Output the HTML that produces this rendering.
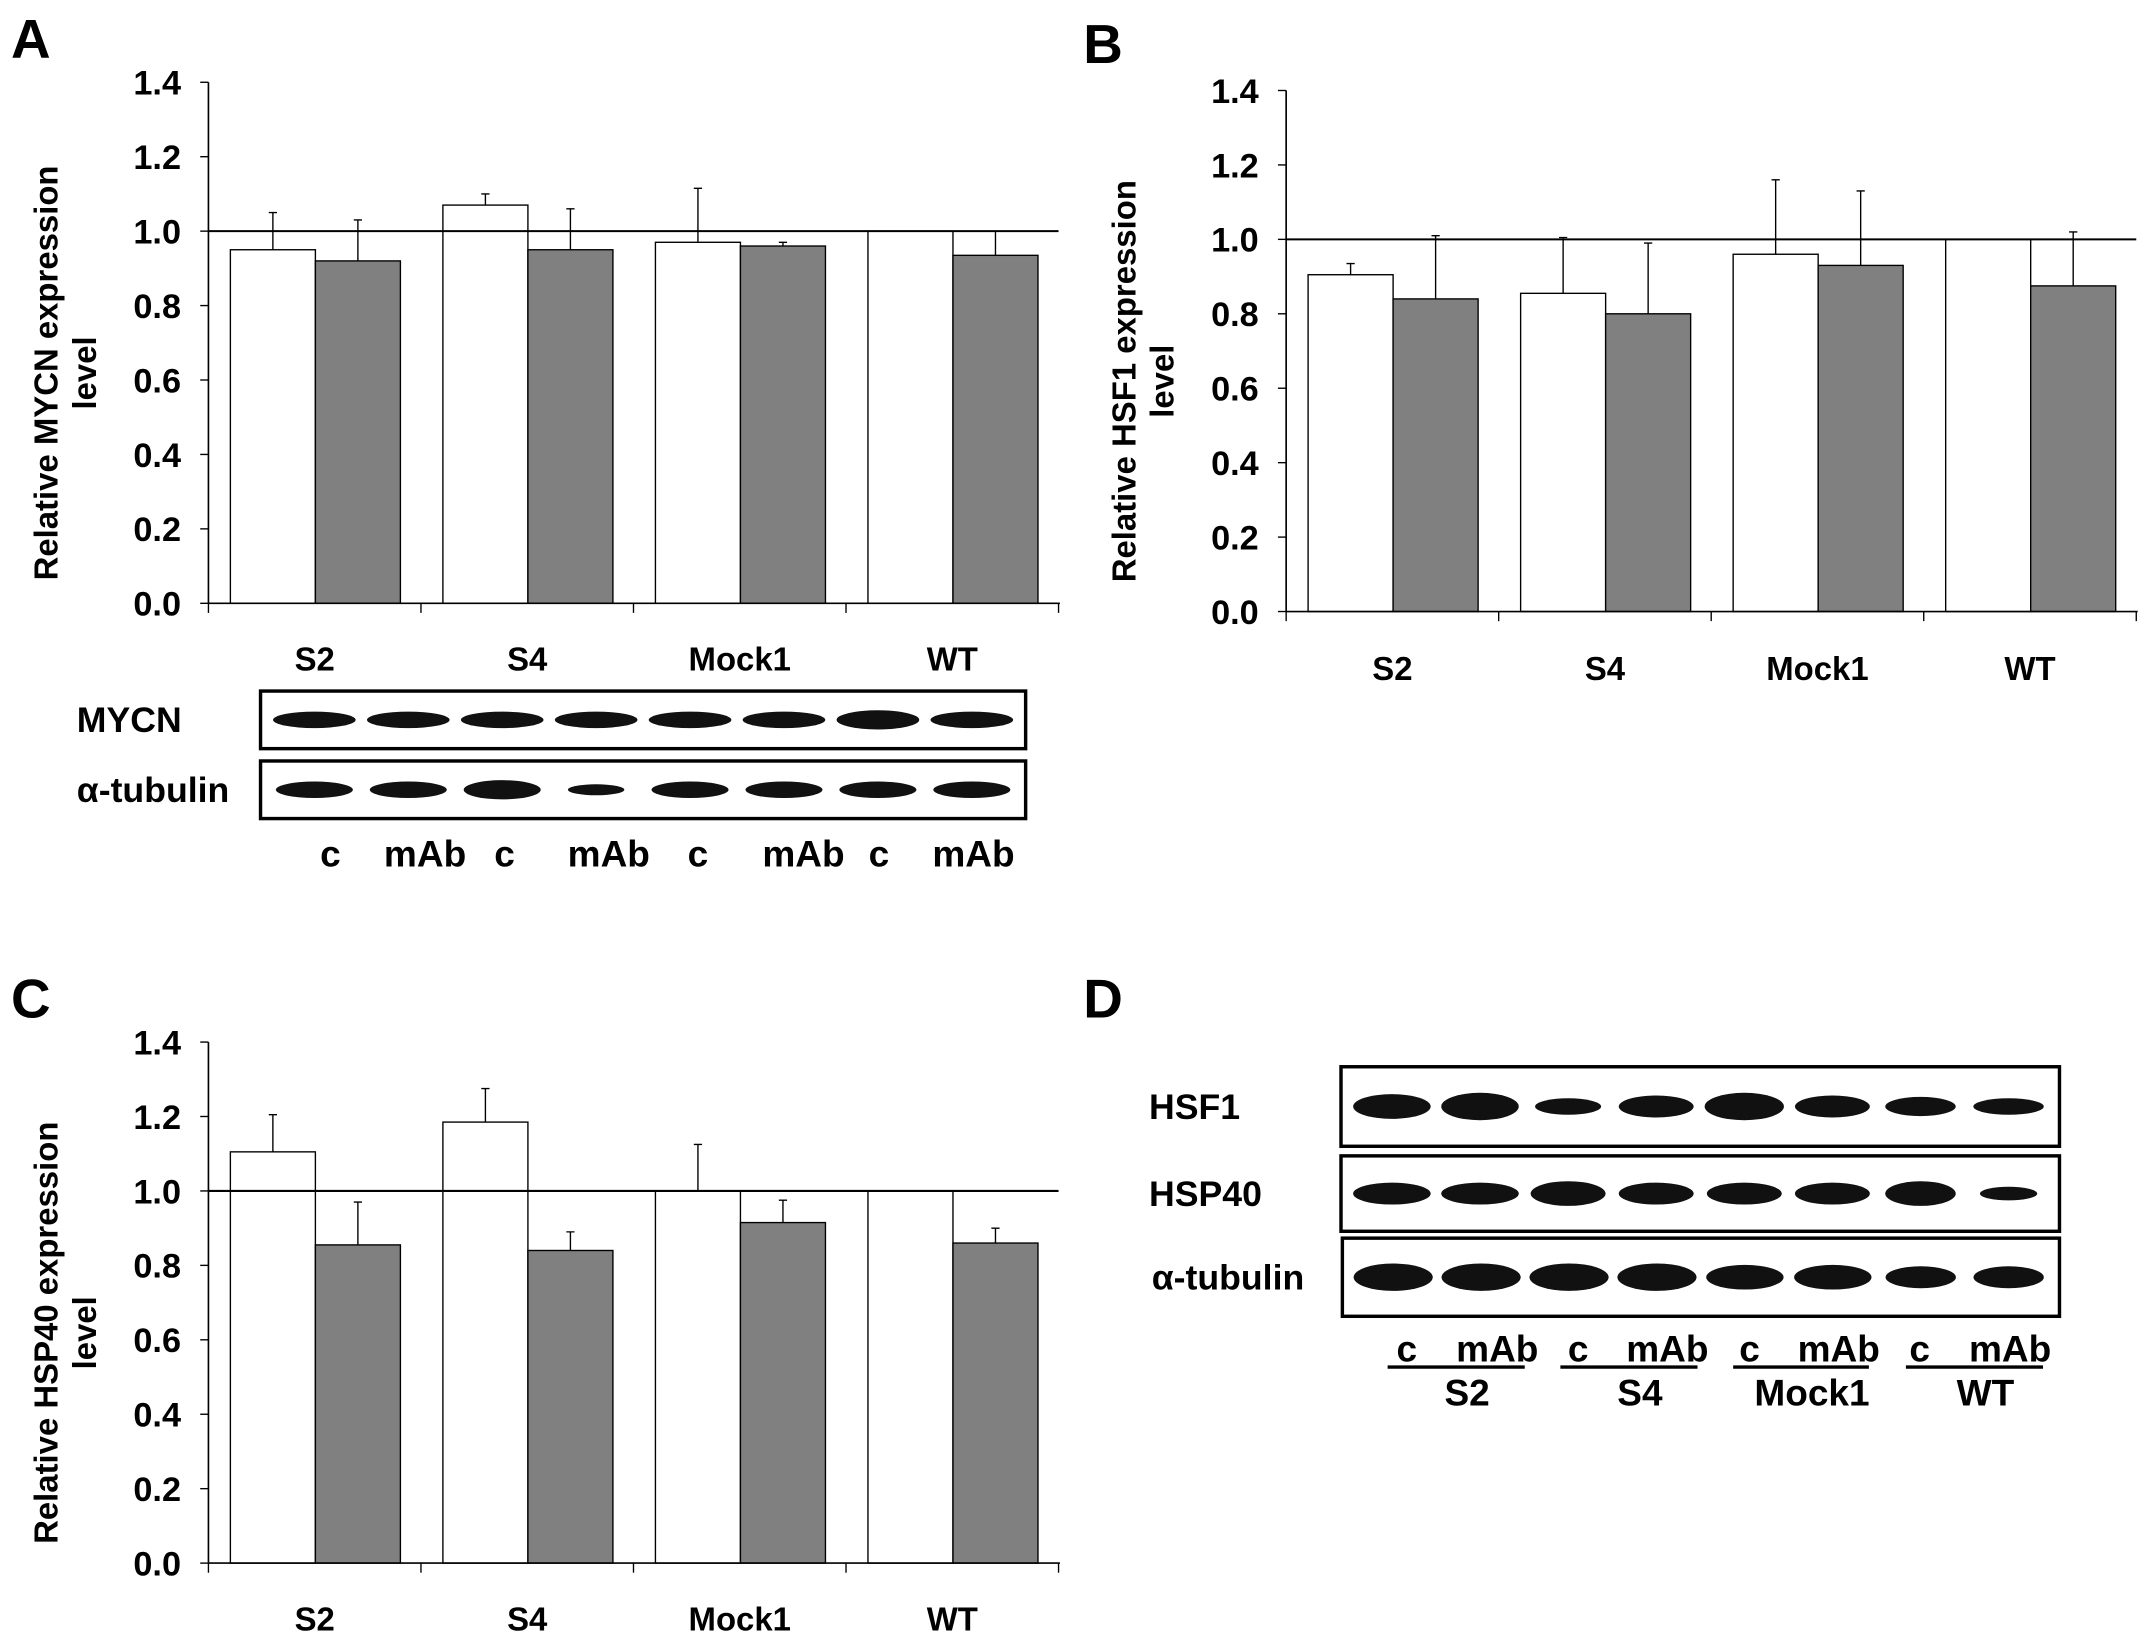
<!DOCTYPE html>
<html><head><meta charset="utf-8"><style>
html,body{margin:0;padding:0;background:#fff;}
svg{display:block;font-family:"Liberation Sans",Arial,sans-serif;font-weight:bold;}
</style></head><body>
<svg id="fig" width="2150" height="1644" viewBox="0 0 1568 1199" xmlns="http://www.w3.org/2000/svg">
<rect width="1568" height="1199" fill="#fff"/>
<text x="8" y="42" font-size="40">A</text>
<text x="790" y="46" font-size="40">B</text>
<text x="8" y="742" font-size="40">C</text>
<text x="790" y="742" font-size="40">D</text>
</svg>
<script>
const categories = ["S2","S4","Mock1","WT"];
const aWhite = [0.95,1.07,0.97,1.0];
const aWhiteErr = [0.1,0.03,0.145,0];
const aGray = [0.92,0.95,0.96,0.935];
const aGrayErr = [0.11,0.11,0.01,0.065];
const bWhite = [0.905,0.855,0.96,1.0];
const bWhiteErr = [0.03,0.15,0.2,0];
const bGray = [0.84,0.80,0.93,0.875];
const bGrayErr = [0.17,0.19,0.2,0.145];
const cWhite = [1.105,1.185,1.0,1.0];
const cWhiteErr = [0.1,0.09,0.125,0];
const cGray = [0.855,0.84,0.915,0.86];
const cGrayErr = [0.115,0.05,0.06,0.04];
const yTicks = [0,0.2,0.4,0.6,0.8,1.0,1.2,1.4];

const NS="http://www.w3.org/2000/svg";
const svg=document.getElementById('fig');
function mk(tag,attrs,parent,text){const e=document.createElementNS(NS,tag);for(const k in attrs)e.setAttribute(k,attrs[k]);if(text!==undefined)e.textContent=text;(parent||svg).appendChild(e);return e;}

function chart(id,ox,oy0,oy14,title,white,whiteErr,gray,grayErr,labelY){
  const g=mk('g',{});
  
  
  const gw=155, bw=62;
  const xEnd=ox+gw*categories.length+1;
  const y=v=>oy0-(oy0-oy14)*v/1.4;
  const xg=i=>ox+gw*i;
  categories.forEach((c,i)=>{
    const wv=white[i], gv=gray[i];
    const r1=mk('rect',{x:xg(i)+16,y:y(wv),width:bw,height:oy0-y(wv),fill:'#fff',stroke:'#000','stroke-width':1},g);
    
    
    const r2=mk('rect',{x:xg(i)+16+bw,y:y(gv),width:bw,height:oy0-y(gv),fill:'#808080',stroke:'#000','stroke-width':1},g);
    
    
    [[xg(i)+16+bw/2,wv,whiteErr[i]],[xg(i)+16+bw*1.5,gv,grayErr[i]]].forEach(([cx,v,e])=>{
      if(e>0){
        const eb=mk('path',{d:`M${cx},${y(v)}V${y(v+e)}M${cx-3},${y(v+e)}H${cx+3}`,stroke:'#000','stroke-width':1,fill:'none'},g);
        
        
      }
    });
    const t=mk('text',{x:xg(i)+gw/2,y:labelY,'font-size':24,'text-anchor':'middle'},g,c);
    
    
  });
  const rl=mk('line',{x1:ox,x2:xEnd-1,y1:y(1),y2:y(1),stroke:'#000','stroke-width':1.5},g);
  
  
  const ya=mk('line',{x1:ox,x2:ox,y1:oy14,y2:oy0,stroke:'#000','stroke-width':1.2},g);
  
  
  const xa=mk('line',{x1:ox,x2:xEnd,y1:oy0,y2:oy0,stroke:'#000','stroke-width':1.2},g);
  
  
  for(let i=0;i<=categories.length;i++){
    mk('line',{x1:xg(i),x2:xg(i),y1:oy0,y2:oy0+7,stroke:'#000','stroke-width':1},g);
  }
  yTicks.forEach(v=>{
    mk('line',{x1:ox-6,x2:ox,y1:y(v),y2:y(v),stroke:'#000','stroke-width':1},g);
    const t=mk('text',{x:ox-20,y:y(v)+9,'font-size':25,'text-anchor':'end'},g,v.toFixed(1));
    
    
  });
  const cy=(oy0+oy14)/2+22;
  const tt=mk('text',{transform:`translate(${ox-110},${cy}) rotate(-90)`,'font-size':24,'text-anchor':'middle'},g);
  
  
  mk('tspan',{x:0,y:0},tt,title);
  mk('tspan',{x:0,y:28},tt,'level');
}
chart('chart-mycn',152,440,60,'Relative MYCN expression',aWhite,aWhiteErr,aGray,aGrayErr,489);
chart('chart-hsf1',938,446,66,'Relative HSF1 expression',bWhite,bWhiteErr,bGray,bGrayErr,496);
chart('chart-hsp40',152,1140,760,'Relative HSP40 expression',cWhite,cWhiteErr,cGray,cGrayErr,1189);

function blot(name,label,lx,bx,by,bw,bh,lanes,widths,thick,lsize){
  const g=mk('g',{});
  
  
  mk('rect',{x:bx,y:by,width:bw,height:bh,fill:'#fff',stroke:'#000','stroke-width':2.5},g);
  const lw=(bw-10)/lanes;
  for(let i=0;i<lanes;i++){
    mk('ellipse',{cx:bx+5+lw*(i+0.5),cy:by+bh/2,rx:lw*widths[i]/2,ry:thick[i],fill:'#111'},g);
  }
  const t=mk('text',{x:lx,y:by+bh/2+9,'font-size':lsize},g,label);
  
  
}
blot('blot-a-mycn','MYCN',56,190,504,558,42,8,[0.88,0.88,0.88,0.88,0.88,0.88,0.88,0.88],[6,6,6,6,6,6,7,6],26);
blot('blot-a-tubulin','α-tubulin',56,190,555,558,42,8,[0.82,0.82,0.82,0.6,0.82,0.82,0.82,0.82],[6,6,7,4,6,6,6,6],26);
blot('blot-d-hsf1','HSF1',838,978,778,524,58,8,[0.88,0.88,0.75,0.85,0.9,0.85,0.8,0.8],[9,10,6,8,10,8,7,6],26);
blot('blot-d-hsp40','HSP40',838,978,843,524,55,8,[0.88,0.88,0.85,0.85,0.85,0.85,0.8,0.65],[8,8,9,8,8,8,9,5],26);
blot('blot-d-tubulin','α-tubulin',840,979,903,523,57,8,[0.9,0.9,0.9,0.9,0.88,0.88,0.8,0.8],[10,10,10,10,9,9,8,8],26);

const laneLabelsA=[["c",241],["mAb",310],["c",368],["mAb",444],["c",509],["mAb",586],["c",641],["mAb",710]];
laneLabelsA.forEach(([s,x])=>{
  const t=mk('text',{x:x,y:632,'font-size':27,'text-anchor':'middle'},svg,s);
  
  
});
const laneLabelsD=[["c",1026],["mAb",1092],["c",1151],["mAb",1216],["c",1276],["mAb",1341],["c",1400],["mAb",1466]];
laneLabelsD.forEach(([s,x])=>{
  const t=mk('text',{x:x,y:993,'font-size':27,'text-anchor':'middle'},svg,s);
  
  
});
const groupD=[["S2",1012,1112],["S4",1138,1238],["Mock1",1264,1363],["WT",1390,1490]];
groupD.forEach(([s,a,b])=>{
  const l=mk('line',{x1:a,x2:b,y1:997,y2:997,stroke:'#000','stroke-width':2.5});
  
  
  const t=mk('text',{x:(a+b)/2+8,y:1025,'font-size':27,'text-anchor':'middle'},svg,s);
  
  
});
</script>
</body></html>
